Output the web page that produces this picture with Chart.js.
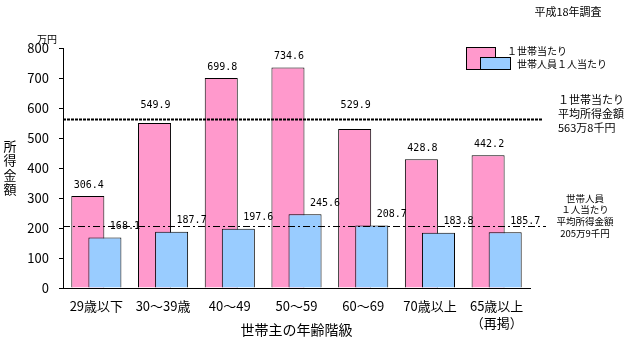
<!DOCTYPE html>
<html>
<head>
<meta charset="utf-8">
<script src="https://cdn.jsdelivr.net/npm/chart.js@4"></script>
<style>
html,body{margin:0;padding:0;background:#fff;}
canvas{display:block;}
</style>
</head>
<body>
<canvas id="c" width="625" height="339"></canvas>
<script>
const categories = ['29歳以下','30～39歳','40～49','50～59','60～69','70歳以上',['65歳以上','（再掲）']];
const seriesLabels = ['１世帯当たり','世帯人員１人当たり'];
const perHousehold = [306.4,549.9,699.8,734.6,529.9,428.8,442.2];
const perMember = [168.1,187.7,197.6,245.6,208.7,183.8,185.7];
const avgHousehold = 563.8;
const avgMember = 205.9;
const avgHouseholdText = ['１世帯当たり','平均所得金額','563万8千円'];
const avgMemberText = ['世帯人員','１人当たり','平均所得金額','205万9千円'];
const yTitleChars = ['所','得','金','額'];
const yUnit = '万円';
const xTitle = '世帯主の年齢階級';
const surveyNote = '平成18年調査';
const yMin = 0, yMax = 800, yStep = 100;

const JP = '"Noto Sans CJK JP", "Noto Sans", sans-serif';
const PINK = '#FF99CC', BLUE = '#99CCFF';

const shiftPlugin = {
  id: 'shift',
  afterDatasetsUpdate(chart) {
    const xs = chart.scales.x;
    const cw = xs.getPixelForValue(1) - xs.getPixelForValue(0);
    const s = cw * 0.128;
    chart.getDatasetMeta(0).data.forEach(el => { el.x -= s; });
    chart.getDatasetMeta(1).data.forEach(el => { el.x += s; });
  }
};

const decoPlugin = {
  id: 'deco',
  afterDatasetsDraw(chart) {
    const ctx = chart.ctx;
    const ys = chart.scales.y;
    const area = chart.chartArea;
    const yH = ys.getPixelForValue(avgHousehold);
    const yM = ys.getPixelForValue(avgMember);
    ctx.save();
    // dashed average lines
    ctx.strokeStyle = '#000';
    ctx.lineWidth = 2;
    ctx.setLineDash([3,1]);
    ctx.beginPath(); ctx.moveTo(area.left, Math.round(yH)+0.5); ctx.lineTo(543, Math.round(yH)+0.5); ctx.stroke();
    ctx.lineWidth = 1;
    ctx.setLineDash([7,3,2,3]);
    ctx.beginPath(); ctx.moveTo(area.left, Math.round(yM)+0.5); ctx.lineTo(546, Math.round(yM)+0.5); ctx.stroke();
    ctx.setLineDash([]);

    // value labels
    ctx.fillStyle = '#000';
    ctx.font = '10px "DejaVu Sans Mono", monospace';
    ctx.textAlign = 'center';
    ctx.textBaseline = 'middle';
    chart.getDatasetMeta(0).data.forEach((el, i) => {
      let ly = el.y - 11;
      if (Math.abs(ly - yH) < 8) ly = yH - 13;
      ctx.fillText(perHousehold[i].toFixed(1), el.x + 1, ly);
    });
    chart.getDatasetMeta(1).data.forEach((el, i) => {
      ctx.fillText(perMember[i].toFixed(1), el.x + 20, el.y - 11);
    });

    // legend
    ctx.lineWidth = 1;
    ctx.strokeStyle = '#000';
    ctx.fillStyle = PINK;
    ctx.fillRect(466.5, 47.5, 29, 22); ctx.strokeRect(466.5, 47.5, 29, 22);
    ctx.fillStyle = BLUE;
    ctx.fillRect(480.5, 57.5, 30, 12); ctx.strokeRect(480.5, 57.5, 30, 12);
    ctx.fillStyle = '#000';
    ctx.font = '10px ' + JP;
    ctx.textAlign = 'left';
    ctx.fillText(chart.data.datasets[0].label, 507, 51);
    ctx.fillText(chart.data.datasets[1].label, 517, 64);

    // average annotations
    ctx.font = '11px ' + JP;
    avgHouseholdText.forEach((t, i) => ctx.fillText(t, 558, 100 + i * 14));
    ctx.font = '9.5px ' + JP;
    ctx.textAlign = 'center';
    avgMemberText.forEach((t, i) => ctx.fillText(t, 585, 198 + i * 11.8));

    // y title, unit, note, x title
    ctx.font = '13px ' + JP;
    yTitleChars.forEach((t, i) => ctx.fillText(t, 10, 146 + i * 14.5));
    ctx.font = '10px ' + JP;
    ctx.fillText(yUnit, 47, 39);
    ctx.font = '11px ' + JP;
    ctx.fillText(surveyNote, 568, 12);
    ctx.font = '14px ' + JP;
    ctx.fillText(xTitle, (area.left + area.right) / 2, 330);
    ctx.restore();
  }
};

new Chart(document.getElementById('c'), {
  type: 'bar',
  data: {
    labels: categories,
    datasets: [
      { label: seriesLabels[0], data: perHousehold, backgroundColor: PINK, borderColor: '#000', borderWidth: 1, order: 2, grouped: false },
      { label: seriesLabels[1], data: perMember, backgroundColor: BLUE, borderColor: '#000', borderWidth: 1, order: 1, grouped: false }
    ]
  },
  options: {
    responsive: false,
    animation: false,
    layout: { padding: { left: 0, top: 48, right: 95, bottom: 0 } },
    datasets: { bar: { categoryPercentage: 1, barPercentage: 0.495 } },
    plugins: { legend: { display: false }, tooltip: { enabled: false } },
    scales: {
      x: {
        grid: { display: false },
        border: { display: true, color: '#000', width: 1 },
        ticks: { color: '#000', font: { family: JP, size: 13, lineHeight: 1.27 }, padding: 2, maxRotation: 0, autoSkip: false },
        afterFit(s) { s.height = 51; }
      },
      y: {
        min: yMin, max: yMax,
        grid: { drawOnChartArea: false, drawTicks: true, tickLength: 4, color: '#000' },
        border: { display: true, color: '#000', width: 1 },
        ticks: { stepSize: yStep, color: '#000', font: { family: JP, size: 13 }, padding: 10 },
        afterFit(s) { s.width = 63; }
      }
    }
  },
  plugins: [shiftPlugin, decoPlugin]
});
</script>
</body>
</html>
